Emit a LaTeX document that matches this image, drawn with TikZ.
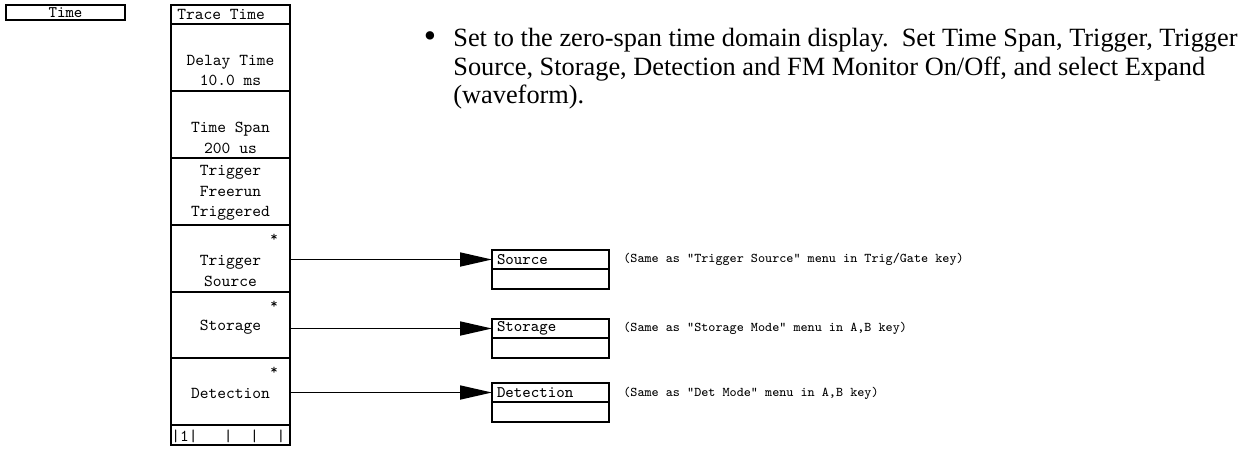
\documentclass[tikz,border=0pt]{standalone}
\usepackage{fontspec}
\setmainfont{Liberation Serif}
\usetikzlibrary{positioning,arrows.meta}

\tikzset{
  softkey/.style={draw,line width=0.8pt,minimum width=2.38cm,minimum height=1.34cm,inner sep=0pt,outer sep=0pt},
  keyhead/.style={draw,line width=0.8pt,minimum width=2.38cm,minimum height=0.38cm,inner sep=0pt,outer sep=0pt},
  subhead/.style={draw,line width=0.8pt,text width=2.14cm,inner xsep=0.1cm,inner ysep=0pt,outer sep=0pt,
    minimum height=0.38cm,align=left,font=\ttfamily\fontsize{9.2}{10}\selectfont},
  subrow/.style={draw,line width=0.8pt,minimum width=2.34cm,minimum height=0.4cm,inner sep=0pt,outer sep=0pt},
  keytxt/.style={font=\ttfamily\fontsize{9.5}{11.7}\selectfont,align=center,inner sep=0pt},
  star/.style={font=\ttfamily\fontsize{8}{8}\selectfont,inner sep=0pt},
  note/.style={font=\ttfamily\fontsize{7.6}{8}\selectfont,anchor=west,inner sep=0pt},
  flow/.style={line width=1pt,-{Triangle[length=0.64cm,width=0.28cm]}},
}

\begin{document}
\begin{tikzpicture}[x=0.02cm,y=-0.02cm,node distance=0pt]
\useasboundingbox (0,0) rectangle (1254,451);
  % hard key
  \node[draw,line width=0.8pt,minimum width=2.38cm,minimum height=0.3cm,inner sep=0pt,
    font=\ttfamily\fontsize{9.2}{10}\selectfont] (timekey) at (65.5,12.5) {Time};
  %%%%%%%%%%%%%%%% softkey column
  \node[keyhead,anchor=north west] (hdr) at (171,5) {};
  \node[keytxt,anchor=west] (hdrt) at (177,14.5) {Trace Time};
  \node[softkey,below=of hdr] (dly) {};
  \node[softkey,below=of dly] (span) {};
  \node[softkey,below=of span] (trig) {};
  \node[softkey,below=of trig] (tsrc) {};
  \node[softkey,below=of tsrc,minimum height=1.32cm] (stor) {};
  \node[softkey,below=of stor] (det) {};
  \node[keyhead,below=of det,minimum height=0.4cm] (strip) {};
  \node[keytxt] (dlyt) at (230.5,70.5) {Delay Time\\10.0 ms};
  \node[keytxt] (spant) at (230.5,138) {Time Span\\200 us};
  \node[keytxt] (trigt) at (230.5,193) {Trigger\\Freerun\\Triggered};
  \node[keytxt] (tsrct) at (230.5,271) {Trigger\\Source};
  \node[keytxt] (stort) at (230.5,327) {Storage};
  \node[keytxt] (dett) at (230.5,393) {Detection};
  \node[star] (s1) at (274,238) {*};
  \node[star] (s2) at (274,305) {*};
  \node[star] (s3) at (274,371) {*};
  \node[keytxt,anchor=west] (stript) at (171,436) {|1|~~~|~~|~~|};
  %%%%%%%%%%%%%%%% sub menus
  \node[subhead,anchor=north west] (src) at (492,250) {Source};
  \node[subrow,below=of src] (srcb) {};
  \node[subhead,anchor=north west] (stg) at (492,319) {Storage};
  \node[subrow,below=of stg] (stgb) {};
  \node[subhead,anchor=north west] (dtc) at (492,383) {Detection};
  \node[subrow,below=of dtc] (dtcb) {};
  \draw[flow] (tsrc.east |- src.west) -- (src.west);
  \draw[flow] (stor.east |- stg.west) -- (stg.west);
  \draw[flow] (det.east |- dtc.west) -- (dtc.west);
  \node[note] (n1) at (623,259) {(Same as "Trigger Source" menu in Trig/Gate key)};
  \node[note] (n2) at (623,328) {(Same as "Storage Mode" menu in A,B key)};
  \node[note] (n3) at (623,393) {(Same as "Det Mode" menu in A,B key)};
  %%%%%%%%%%%%%%%% description
  \node[inner sep=0pt,font=\fontsize{20}{20}\selectfont] (dot) at (430,40) {\textbullet};
  \node[anchor=north west,inner sep=0pt,align=left,font=\fontsize{15}{16.3}\selectfont] (desc) at (453,28)
    {Set to the zero-span time domain display.\ \ Set Time Span, Trigger, Trigger\\
     Source, Storage, Detection and FM Monitor On/Off, and select Expand\\
     (waveform).};
\end{tikzpicture}
\end{document}
